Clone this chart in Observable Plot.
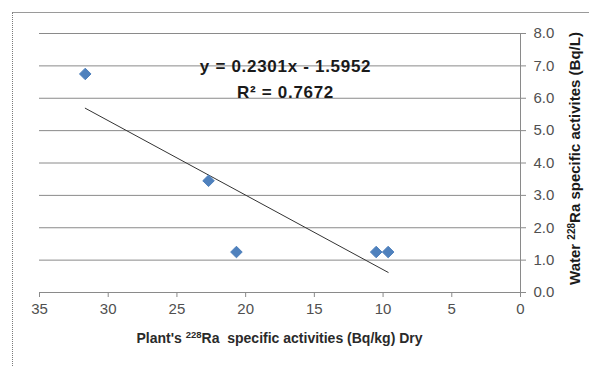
<!DOCTYPE html>
<html>
<head>
<meta charset="utf-8">
<script src="https://cdn.jsdelivr.net/npm/d3@7"></script>
<script src="https://cdn.jsdelivr.net/npm/@observablehq/plot@0.6"></script>
<style>
  html, body { margin: 0; padding: 0; background: #fff; }
  #wrap { position: relative; width: 589px; height: 366px; overflow: hidden; }
  #frame { position: absolute; left: 12px; top: 12px; width: 600px; height: 400px;
           border-top: 1px solid #9a9a9a; border-left: 1px dotted #7a7a7a; box-sizing: border-box; }
  #chart { position: absolute; left: 0; top: 0; }
  .eq text { letter-spacing: 0.7px; }
</style>
</head>
<body>
<div id="wrap"><div id="frame"></div><div id="chart"></div></div>
<script>
// Data
const plantActivity = [31.67, 22.7, 20.67, 10.5, 9.63];   // x: Plant's 228Ra (Bq/kg) Dry
const waterActivity = [6.75, 3.45, 1.25, 1.25, 1.25];      // y: Water 228Ra (Bq/L)
const xTicks = [35, 30, 25, 20, 15, 10, 5, 0];
const yTicks = [0, 1, 2, 3, 4, 5, 6, 7, 8];
const trendSlope = 0.2301;
const trendIntercept = -1.5952;
const equationLines = ["y = 0.2301x - 1.5952", "R² = 0.7672"];

const points = plantActivity.map((x, i) => ({x, y: waterActivity[i]}));
const xMin = d3.min(plantActivity), xMax = d3.max(plantActivity);
const trend = [xMax, xMin].map(x => ({x, y: trendSlope * x + trendIntercept}));

const font = "Liberation Sans, Arial, sans-serif";
const plot = Plot.plot({
  width: 589, height: 366,
  marginLeft: 39, marginRight: 69, marginTop: 33, marginBottom: 74,
  style: {fontFamily: font, fontSize: "15px", color: "#505050", background: "transparent", overflow: "visible"},
  x: {domain: [35, 0]},
  y: {domain: [0, 8]},
  marks: [
    Plot.ruleY(yTicks, {stroke: "#8a8a8a", strokeWidth: 1}),
    Plot.ruleX([0], {stroke: "#8a8a8a", strokeWidth: 1}),
    Plot.axisX({ticks: xTicks, tickSize: 5, tickPadding: 6, stroke: "#8a8a8a", fill: "#505050", label: null, fontSize: 15}),
    Plot.axisY({anchor: "right", ticks: yTicks, tickSize: 5, tickPadding: 8, tickFormat: d => d.toFixed(1),
                stroke: "#8a8a8a", fill: "#505050", label: null, fontSize: 15}),
    Plot.line(trend, {x: "x", y: "y", stroke: "#333333", strokeWidth: 1}),
    Plot.dot(points, {x: "x", y: "y", symbol: "diamond2", r: 5.2, fill: "#4F81BD", stroke: "#4F81BD", strokeWidth: 1}),
    Plot.text(equationLines, {x: 17.1, y: (d, i) => [6.98, 6.18][i], text: d => d,
                              fontWeight: "bold", fontSize: 17, fill: "#1a1a1a", className: "eq"})
  ]
});
document.getElementById("chart").appendChild(plot);

const svg = d3.select(plot);
const sx = plot.scale("x"), sy = plot.scale("y");
const cx = (sx.apply(35) + sx.apply(0)) / 2;
const cy = (sy.apply(0) + sy.apply(8)) / 2;

// X axis title with superscript
const xt = svg.append("text")
  .attr("x", cx).attr("y", 343)
  .attr("text-anchor", "middle")
  .attr("font-family", font).attr("font-size", 14).attr("font-weight", "bold")
  .attr("fill", "#2a2a2a");
xt.append("tspan").text("Plant's ");
xt.append("tspan").attr("font-size", 9.5).attr("dy", -5).text("228");
xt.append("tspan").attr("dy", 5).text("Ra  specific activities (Bq/kg) Dry");

// Y axis title (rotated) with superscript
const yt = svg.append("text")
  .attr("transform", `translate(580,${cy - 4}) rotate(-90)`)
  .attr("text-anchor", "middle")
  .attr("font-family", font).attr("font-size", 15).attr("font-weight", "bold")
  .attr("fill", "#1a1a1a");
yt.append("tspan").text("Water ");
yt.append("tspan").attr("font-size", 10).attr("dy", -5).text("228");
yt.append("tspan").attr("dy", 5).text("Ra specific activites (Bq/L)");
</script>
</body>
</html>
